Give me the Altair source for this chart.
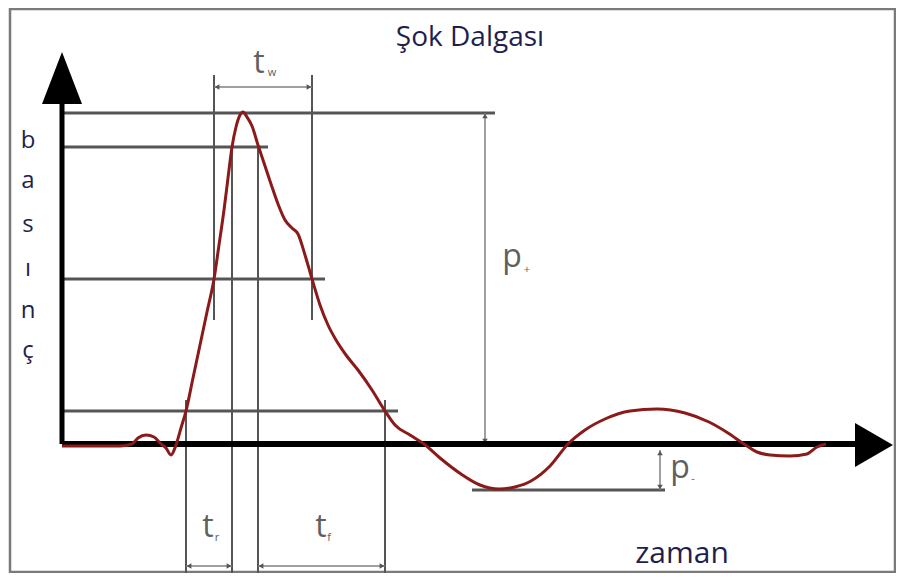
import altair as alt
import pandas as pd

# ---- data (time units t, pressure units p; origin at the axes' corner) ----
curve_t = [0, 28, 58, 70, 76, 84, 92, 98, 104, 109, 114, 119, 124, 131, 138, 145, 152, 157, 162,
           166, 170, 174, 178, 181, 185, 190, 196, 202, 209, 216, 223, 230, 236, 243, 250, 258,
           266, 274, 284, 296, 310, 323, 333, 348, 362, 378, 399, 418, 437, 453, 469, 488, 506,
           523, 543, 568, 595, 623, 647, 666, 682, 695, 708, 728, 745, 755, 764]
curve_p = [-2, -2, -2, 0, 6, 9, 7, 1, -4, -11, -1, 16, 33, 66, 99, 132, 165, 199, 234,
           266, 297, 317, 329, 332, 327, 318, 299, 281, 260, 240, 224, 216, 210, 189, 165, 139,
           119, 104, 89, 74, 54, 33, 19, 9, 0, -14, -30, -41, -45, -43, -37, -22, 0,
           14, 25, 33, 35, 31, 22, 11, 0, -8, -11, -12, -10, -3, 0]

level_p = [331, 297, 165, 33, -46]
level_t1 = [2, 2, 2, 2, 410]
level_t2 = [433, 206, 263, 336, 603]

marker_t = [152, 250, 170, 196, 124, 323]
marker_p1 = [369, 369, 297, 297, 44, 44]
marker_p2 = [124, 124, -133, -133, -133, -133]

dimh_p = [357, -122, -122]
dimh_t1 = [152, 124, 196]
dimh_t2 = [250, 170, 323]

dimv_t = [423, 598]
dimv_p1 = [331, -6]
dimv_p2 = [0, -46]

xaxis_t = [0, 795]
yaxis_p = [0, 340]
yarrow_t = [-20, 0, 20]
yarrow_p = [340, 392, 340]
xarrow_p = [-23, -1, 21]
xarrow_t = [793, 831, 793]

frame_t = [-52, 833]
frame_p = [-128, 435]

title_text = "Şok Dalgası"
title_pos = (408, 398)
xlabel_text = "zaman"
xlabel_pos = (620, -119)
ylabel_letters = ["b", "a", "s", "ı", "n", "ç"]
ylabel_t = -34
ylabel_p = [296, 256, 212, 168, 126, 86]

sym_text = ["p", "p", "t", "t", "t"]
sym_t = [450, 618, 197, 146, 259]
sym_p = [177, -34, 371, -93, -93]
sub_text = ["+", "-", "w", "r", "f"]
sub_t = [465, 631, 210, 155, 267]
sub_p = [171, -38, 368, -97, -97]

XD = [-54, 834]
YD = [-129, 436]


def X(f, **kw):
    return alt.X(f, type="quantitative", scale=alt.Scale(domain=XD, nice=False, zero=False), axis=None, **kw)


def Y(f, **kw):
    return alt.Y(f, type="quantitative", scale=alt.Scale(domain=YD, nice=False, zero=False), axis=None, **kw)


GRAY = "#555555"
DIM = "#808080"
INK = "#1f1f4f"

frame = alt.Chart(pd.DataFrame({"t1": [frame_t[0]], "t2": [frame_t[1]],
                                "p1": [frame_p[0]], "p2": [frame_p[1]]})).mark_rect(
    fill=None, stroke="#7a7a7a", strokeWidth=2.5).encode(
    x=X("t1"), x2="t2", y=Y("p1"), y2="p2")

levels = alt.Chart(pd.DataFrame({"p": level_p, "t1": level_t1, "t2": level_t2})).mark_rule(
    color=GRAY, strokeWidth=3).encode(x=X("t1"), x2="t2", y=Y("p"))

markers = alt.Chart(pd.DataFrame({"t": marker_t, "p1": marker_p1, "p2": marker_p2})).mark_rule(
    color=GRAY, strokeWidth=2).encode(x=X("t"), y=Y("p1"), y2="p2")

dimh = alt.Chart(pd.DataFrame({"p": dimh_p, "t1": dimh_t1, "t2": dimh_t2})).mark_rule(
    color=DIM, strokeWidth=1.5).encode(x=X("t1"), x2="t2", y=Y("p"))
dimv = alt.Chart(pd.DataFrame({"t": dimv_t, "p1": dimv_p1, "p2": dimv_p2})).mark_rule(
    color=DIM, strokeWidth=1.5).encode(x=X("t"), y=Y("p1"), y2="p2")

heads = []
for p, a, b in zip(dimh_p, dimh_t1, dimh_t2):
    heads.append({"t": a + 3, "p": p, "s": "triangle-left"})
    heads.append({"t": b - 3, "p": p, "s": "triangle-right"})
for t, a, b in zip(dimv_t, dimv_p1, dimv_p2):
    heads.append({"t": t, "p": a - 3, "s": "triangle-up"})
    heads.append({"t": t, "p": b + 3, "s": "triangle-down"})
arrowheads = alt.Chart(pd.DataFrame(heads)).mark_point(
    filled=True, color="#555555", size=30, opacity=1).encode(
    x=X("t"), y=Y("p"), shape=alt.Shape("s:N", scale=None))

curve = alt.Chart(pd.DataFrame({"i": range(len(curve_t)), "t": curve_t, "p": curve_p})).mark_line(
    color="#8b1a1a", strokeWidth=3, interpolate="monotone").encode(
    x=X("t"), y=Y("p"), order="i:Q")

xaxis = alt.Chart(pd.DataFrame({"t1": [xaxis_t[0]], "t2": [xaxis_t[1]], "p": [0]})).mark_rule(
    color="black", strokeWidth=6).encode(x=X("t1"), x2="t2", y=Y("p"))
yaxis = alt.Chart(pd.DataFrame({"p1": [yaxis_p[0]], "p2": [yaxis_p[1]], "t": [0]})).mark_rule(
    color="black", strokeWidth=5).encode(x=X("t"), y=Y("p1"), y2="p2")
yarrow = alt.Chart(pd.DataFrame({"t": yarrow_t, "p": yarrow_p, "b": [yarrow_p[0]] * 3})).mark_area(
    color="black", orient="vertical", opacity=1).encode(x=X("t"), y=Y("p"), y2="b")
xarrow = alt.Chart(pd.DataFrame({"t": xarrow_t, "p": xarrow_p, "b": [xarrow_t[0]] * 3})).mark_area(
    color="black", orient="horizontal", opacity=1).encode(y=Y("p"), x=X("t"), x2="b")

title = alt.Chart(pd.DataFrame({"t": [title_pos[0]], "p": [title_pos[1]], "s": [title_text]})).mark_text(
    font="Open Sans", fontSize=28, color=INK, align="center", baseline="alphabetic").encode(
    x=X("t"), y=Y("p"), text="s:N")
xlabel = alt.Chart(pd.DataFrame({"t": [xlabel_pos[0]], "p": [xlabel_pos[1]], "s": [xlabel_text]})).mark_text(
    font="Open Sans", fontSize=30, color=INK, align="center", baseline="alphabetic").encode(
    x=X("t"), y=Y("p"), text="s:N")
ylabel = alt.Chart(pd.DataFrame({"t": [ylabel_t] * len(ylabel_letters), "p": ylabel_p,
                                 "s": ylabel_letters})).mark_text(
    font="Open Sans", fontSize=24, color=INK, align="center", baseline="alphabetic").encode(
    x=X("t"), y=Y("p"), text="s:N")
syms = alt.Chart(pd.DataFrame({"t": sym_t, "p": sym_p, "s": sym_text})).mark_text(
    font="Open Sans", fontSize=32, color="#606060", align="center", baseline="alphabetic").encode(
    x=X("t"), y=Y("p"), text="s:N")
subs = alt.Chart(pd.DataFrame({"t": sub_t, "p": sub_p, "s": sub_text})).mark_text(
    font="Open Sans", fontSize=11, color="#606060", align="center", baseline="alphabetic").encode(
    x=X("t"), y=Y("p"), text="s:N")

chart = alt.layer(frame, levels, markers, dimh, dimv, arrowheads, xaxis, yaxis, yarrow, xarrow,
                  curve, title, xlabel, ylabel, syms, subs).properties(
    width=888, height=565, padding=0, autosize=alt.AutoSizeParams(type="none"),
    background="white").configure_view(stroke=None)

chart.save("out.html", embed_options={"renderer": "svg", "actions": False})
